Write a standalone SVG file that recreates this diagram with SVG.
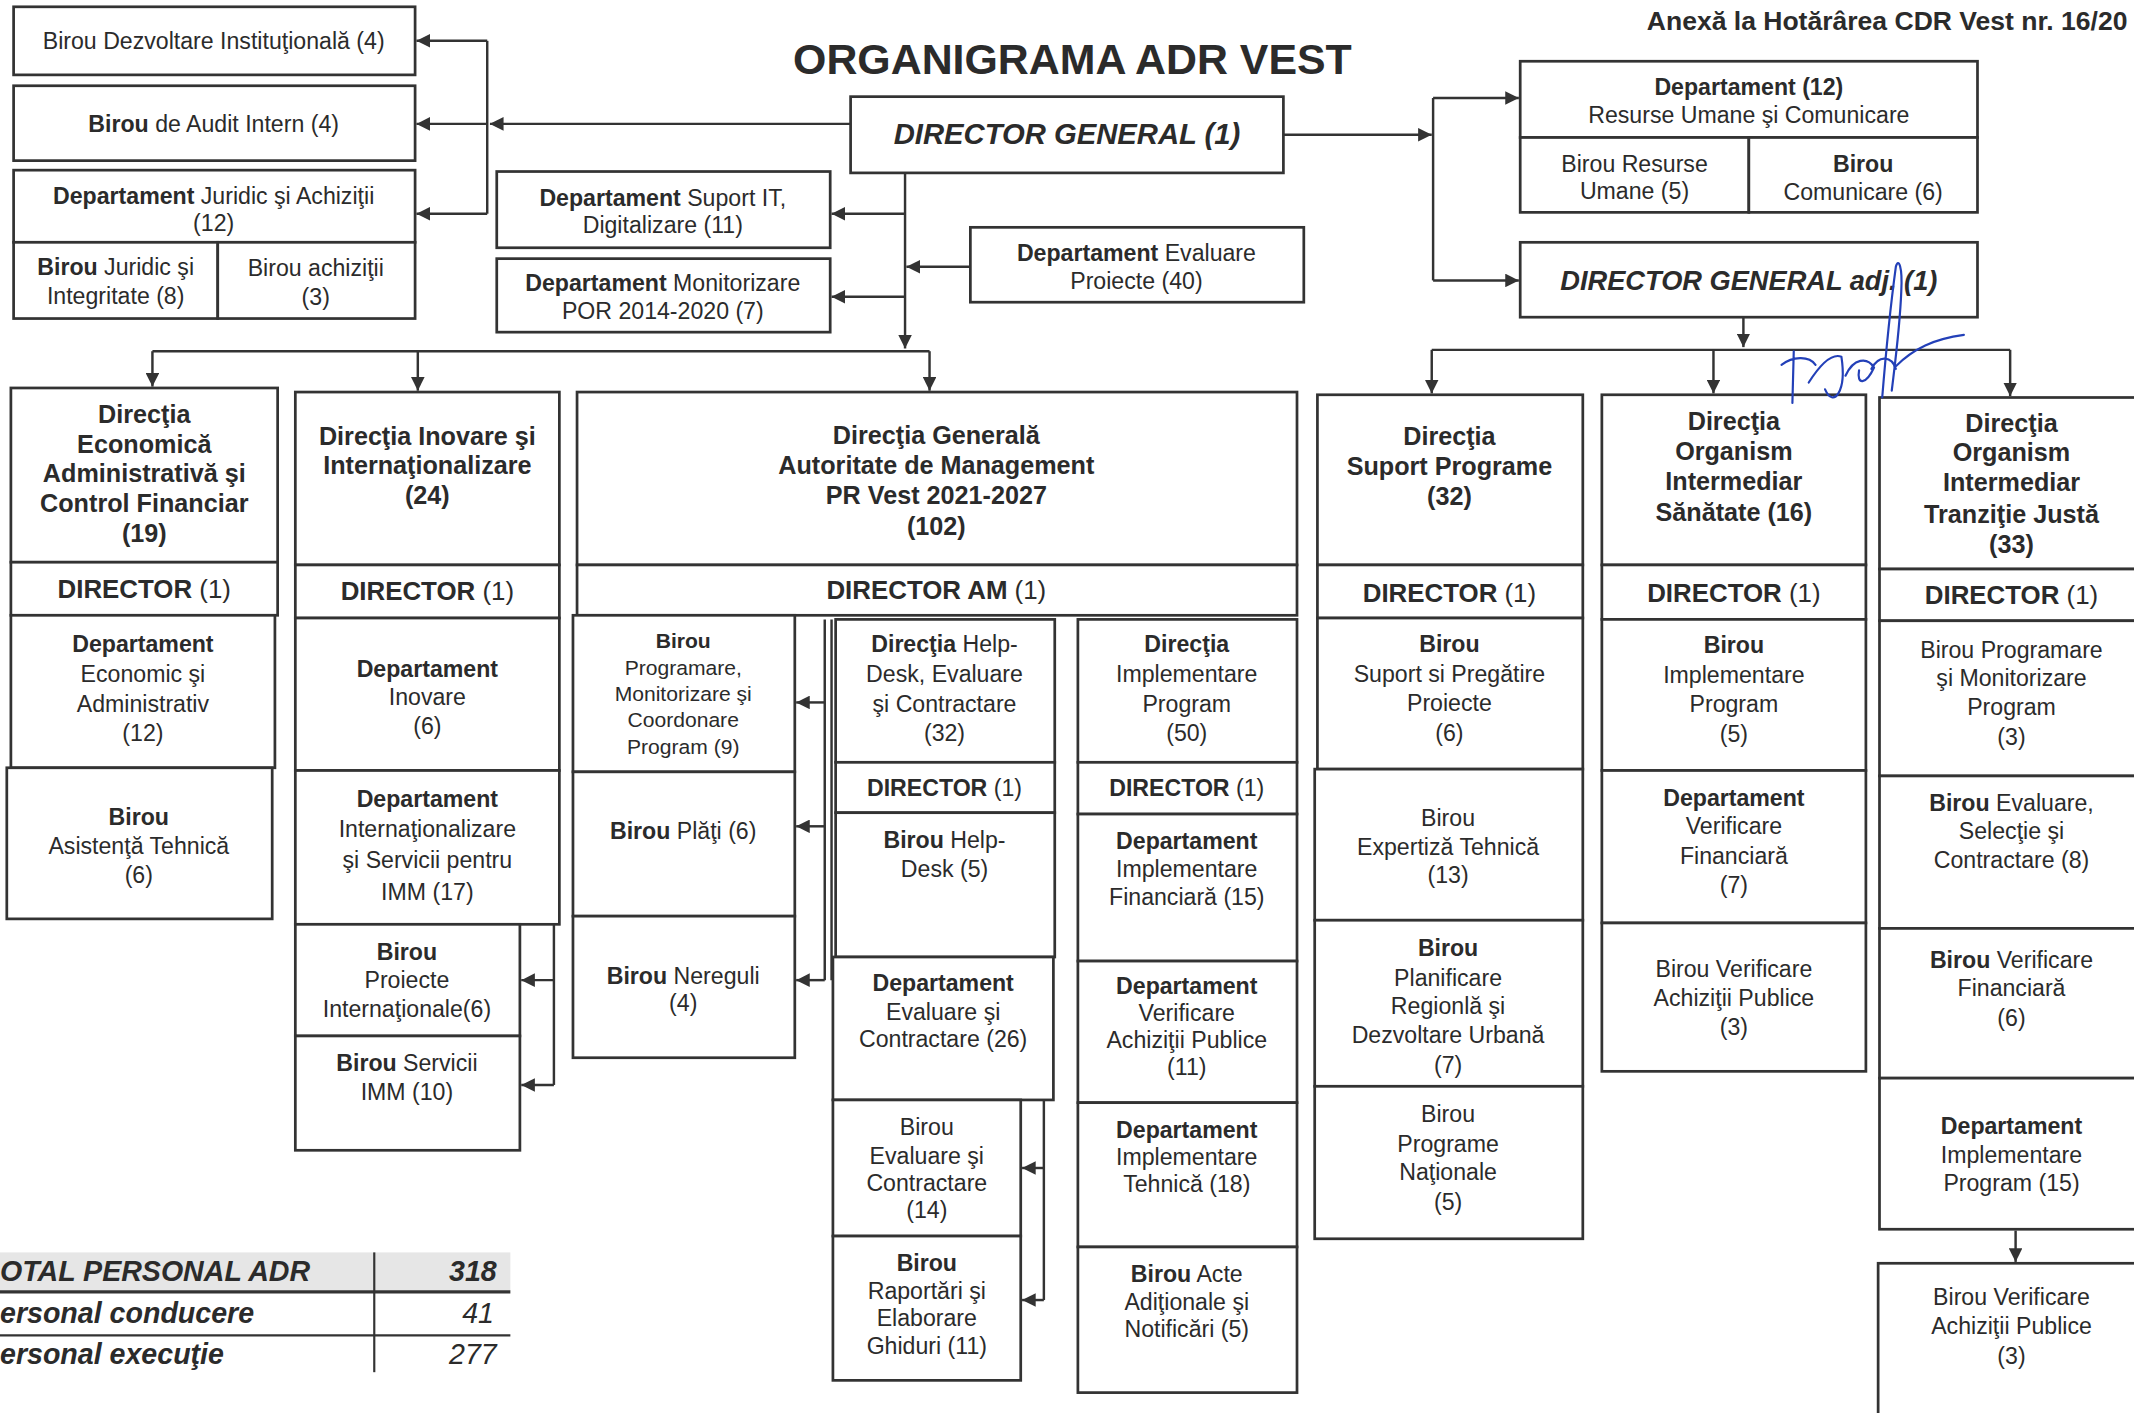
<svg xmlns="http://www.w3.org/2000/svg" width="2134" height="1413" viewBox="0 0 2134 1413">
<defs>
<style>
.bx{fill:#fff;stroke:#333;stroke-width:2}
.ln{fill:none;stroke:#333;stroke-width:1.8}
text{font-family:"Liberation Sans",Arial,sans-serif;fill:#2b2b2b}
.t{font-size:17px;text-anchor:middle}
.s{font-size:15.5px;text-anchor:middle}
.h{font-size:18.5px;font-weight:bold;text-anchor:middle}
.d{font-size:19px;text-anchor:middle}
.b{font-weight:bold}
.bi{font-weight:bold;font-style:italic}
.sig{fill:none;stroke:#2340b8;stroke-width:1.6;stroke-linecap:round;stroke-linejoin:round}
</style>
<marker id="ah" markerUnits="userSpaceOnUse" markerWidth="10" markerHeight="10" refX="10" refY="5" orient="auto">
<path d="M0,0 L10,5 L0,10 z" fill="#333"/>
</marker>
</defs>
<rect width="2134" height="1413" fill="#fff"/>
<g transform="scale(1.36097,1.3613)">

<text x="788" y="54" style="font-size:31.5px;font-weight:bold;text-anchor:middle">ORGANIGRAMA ADR VEST</text>
<text x="1210" y="22" style="font-size:19.5px;font-weight:bold">Anexă la Hotărârea CDR Vest nr. 16/20</text>

<g id="connectors">
<path class="ln" d="M625,91 H360" marker-end="url(#ah)"/>
<path class="ln" d="M358,30 V157"/>
<path class="ln" d="M358,30 H306" marker-end="url(#ah)"/>
<path class="ln" d="M358,91 H306" marker-end="url(#ah)"/>
<path class="ln" d="M358,157 H306" marker-end="url(#ah)"/>
<path class="ln" d="M943,99 H1052" marker-end="url(#ah)"/>
<path class="ln" d="M1053,72 V206"/>
<path class="ln" d="M1053,72 H1116" marker-end="url(#ah)"/>
<path class="ln" d="M1053,206 H1116" marker-end="url(#ah)"/>
<path class="ln" d="M665,127 V256" marker-end="url(#ah)"/>
<path class="ln" d="M665,157 H611" marker-end="url(#ah)"/>
<path class="ln" d="M665,218 H611" marker-end="url(#ah)"/>
<path class="ln" d="M713,196 H666" marker-end="url(#ah)"/>
<path class="ln" d="M112,258 H683"/>
<path class="ln" d="M112,258 V284" marker-end="url(#ah)"/>
<path class="ln" d="M307,258 V287" marker-end="url(#ah)"/>
<path class="ln" d="M683,258 V287" marker-end="url(#ah)"/>
<path class="ln" d="M1281,233 V255" marker-end="url(#ah)"/>
<path class="ln" d="M1052,257 H1477"/>
<path class="ln" d="M1052,257 V289" marker-end="url(#ah)"/>
<path class="ln" d="M1259,257 V289" marker-end="url(#ah)"/>
<path class="ln" d="M1477,257 V291" marker-end="url(#ah)"/>
<path class="ln" d="M407,679 V797"/>
<path class="ln" d="M407,720 H383" marker-end="url(#ah)"/>
<path class="ln" d="M407,797 H383" marker-end="url(#ah)"/>
<path class="ln" d="M606,455 V720"/>
<path class="ln" d="M611,455 V720"/>
<path class="ln" d="M606,516 H585" marker-end="url(#ah)"/>
<path class="ln" d="M606,607 H585" marker-end="url(#ah)"/>
<path class="ln" d="M606,720 H585" marker-end="url(#ah)"/>
<path class="ln" d="M767,808 V955"/>
<path class="ln" d="M767,858 H751" marker-end="url(#ah)"/>
<path class="ln" d="M767,955 H751" marker-end="url(#ah)"/>
<path class="ln" d="M1481,904 V927" marker-end="url(#ah)"/>
</g>

<g id="n_bdi"><rect class="bx" x="10" y="5" width="295" height="50"/><text class="t" x="157" y="36">Birou Dezvoltare Instituţională (4)</text></g>
<g id="n_audit"><rect class="bx" x="10" y="63" width="295" height="55"/><text class="t" x="157" y="97"><tspan class="b">Birou</tspan> de Audit Intern (4)</text></g>
<g id="n_juridic"><rect class="bx" x="10" y="125" width="295" height="53"/><text class="t" x="157" y="150"><tspan class="b">Departament</tspan> Juridic şi Achiziţii</text><text class="t" x="157" y="170">(12)</text></g>
<g id="n_bjur"><rect class="bx" x="10" y="178" width="150" height="56"/><text class="t" x="85" y="202"><tspan class="b">Birou</tspan> Juridic şi</text><text class="t" x="85" y="223">Integritate (8)</text></g>
<g id="n_bach"><rect class="bx" x="160" y="178" width="145" height="56"/><text class="t" x="232" y="203">Birou achiziţii</text><text class="t" x="232" y="224">(3)</text></g>

<g id="n_dg"><rect class="bx" x="625" y="71" width="318" height="56"/><text x="784" y="106" style="font-size:21.5px;font-weight:bold;font-style:italic;text-anchor:middle">DIRECTOR GENERAL (1)</text></g>
<g id="n_it"><rect class="bx" x="365" y="126" width="245" height="56"/><text class="t" x="487" y="151"><tspan class="b">Departament</tspan> Suport IT,</text><text class="t" x="487" y="171">Digitalizare (11)</text></g>
<g id="n_mon"><rect class="bx" x="365" y="190" width="245" height="54"/><text class="t" x="487" y="214"><tspan class="b">Departament</tspan> Monitorizare</text><text class="t" x="487" y="234">POR 2014-2020 (7)</text></g>
<g id="n_eval"><rect class="bx" x="713" y="167" width="245" height="55"/><text class="t" x="835" y="192"><tspan class="b">Departament</tspan> Evaluare</text><text class="t" x="835" y="212">Proiecte (40)</text></g>

<g id="n_ru"><rect class="bx" x="1117" y="45" width="336" height="56"/><text class="t" x="1285" y="70"><tspan class="b">Departament (12)</tspan></text><text class="t" x="1285" y="90">Resurse Umane şi Comunicare</text></g>
<g id="n_bru"><rect class="bx" x="1117" y="101" width="168" height="55"/><text class="t" x="1201" y="126">Birou Resurse</text><text class="t" x="1201" y="146">Umane (5)</text></g>
<g id="n_bcom"><rect class="bx" x="1285" y="101" width="168" height="55"/><text class="t" x="1369" y="126"><tspan class="b">Birou</tspan></text><text class="t" x="1369" y="147">Comunicare (6)</text></g>
<g id="n_dga"><rect class="bx" x="1117" y="178" width="336" height="55"/><text x="1285" y="213" style="font-size:20px;font-weight:bold;font-style:italic;text-anchor:middle">DIRECTOR GENERAL adj. (1)</text></g>

<g id="dirA"><rect class="bx" x="8" y="285" width="196" height="128"/>
<text class="h" x="106" y="311">Direcţia</text><text class="h" x="106" y="333">Economică</text><text class="h" x="106" y="354">Administrativă  şi</text><text class="h" x="106" y="376">Control Financiar</text><text class="h" x="106" y="398">(19)</text></g>
<g id="dirA_dir"><rect class="bx" x="8" y="413" width="196" height="39"/><text class="d" x="106" y="439"><tspan class="b">DIRECTOR</tspan> (1)</text></g>
<g id="a1"><rect class="bx" x="8" y="452" width="194" height="112"/><text class="t" x="105" y="479"><tspan class="b">Departament</tspan></text><text class="t" x="105" y="501">Economic şi</text><text class="t" x="105" y="523">Administrativ</text><text class="t" x="105" y="544">(12)</text></g>
<g id="a2"><rect class="bx" x="5" y="564" width="195" height="111"/><text class="t" x="102" y="606"><tspan class="b">Birou</tspan></text><text class="t" x="102" y="627">Asistenţă Tehnică</text><text class="t" x="102" y="649">(6)</text></g>

<g id="dirB"><rect class="bx" x="217" y="288" width="194" height="127"/>
<text class="h" x="314" y="327">Direcţia Inovare şi</text><text class="h" x="314" y="348">Internaţionalizare</text><text class="h" x="314" y="370">(24)</text></g>
<g id="dirB_dir"><rect class="bx" x="217" y="415" width="194" height="39"/><text class="d" x="314" y="441"><tspan class="b">DIRECTOR</tspan> (1)</text></g>
<g id="b1"><rect class="bx" x="217" y="454" width="194" height="112"/><text class="t" x="314" y="497"><tspan class="b">Departament</tspan></text><text class="t" x="314" y="518">Inovare</text><text class="t" x="314" y="539">(6)</text></g>
<g id="b2"><rect class="bx" x="217" y="566" width="194" height="113"/><text class="t" x="314" y="593"><tspan class="b">Departament</tspan></text><text class="t" x="314" y="615">Internaţionalizare</text><text class="t" x="314" y="638">şi Servicii pentru</text><text class="t" x="314" y="661">IMM (17)</text></g>
<g id="b3"><rect class="bx" x="217" y="679" width="165" height="82"/><text class="t" x="299" y="705"><tspan class="b">Birou</tspan></text><text class="t" x="299" y="726">Proiecte</text><text class="t" x="299" y="747">Internaţionale(6)</text></g>
<g id="b4"><rect class="bx" x="217" y="761" width="165" height="84"/><text class="t" x="299" y="787"><tspan class="b">Birou</tspan> Servicii</text><text class="t" x="299" y="808">IMM (10)</text></g>

<g id="dirC"><rect class="bx" x="424" y="288" width="529" height="127"/>
<text class="h" x="688" y="326">Direcţia Generală</text><text class="h" x="688" y="348">Autoritate de Management</text><text class="h" x="688" y="370">PR Vest 2021-2027</text><text class="h" x="688" y="393">(102)</text></g>
<g id="dirC_dir"><rect class="bx" x="424" y="415" width="529" height="37"/><text class="d" x="688" y="440"><tspan class="b">DIRECTOR AM</tspan> (1)</text></g>
<g id="c1"><rect class="bx" x="421" y="452" width="163" height="115"/><text class="s" x="502" y="476"><tspan class="b">Birou</tspan></text><text class="s" x="502" y="496">Programare,</text><text class="s" x="502" y="515">Monitorizare şi</text><text class="s" x="502" y="534">Coordonare</text><text class="s" x="502" y="554">Program (9)</text></g>
<g id="c2"><rect class="bx" x="421" y="567" width="163" height="106"/><text class="t" x="502" y="616"><tspan class="b">Birou</tspan> Plăţi (6)</text></g>
<g id="c3"><rect class="bx" x="421" y="673" width="163" height="104"/><text class="t" x="502" y="723"><tspan class="b">Birou</tspan> Nereguli</text><text class="t" x="502" y="743">(4)</text></g>

<g id="h1"><rect class="bx" x="614" y="455" width="161" height="105"/><text class="t" x="694" y="479"><tspan class="b">Direcţia</tspan> Help-</text><text class="t" x="694" y="501">Desk, Evaluare</text><text class="t" x="694" y="523">şi Contractare</text><text class="t" x="694" y="544">(32)</text></g>
<g id="h_dir"><rect class="bx" x="614" y="560" width="161" height="37"/><text class="t" x="694" y="585"><tspan class="b">DIRECTOR</tspan>  (1)</text></g>
<g id="h2"><rect class="bx" x="614" y="597" width="161" height="106"/><text class="t" x="694" y="623"><tspan class="b">Birou</tspan> Help-</text><text class="t" x="694" y="644">Desk (5)</text></g>
<g id="h3"><rect class="bx" x="612" y="703" width="162" height="105"/><text class="t" x="693" y="728"><tspan class="b">Departament</tspan></text><text class="t" x="693" y="749">Evaluare şi</text><text class="t" x="693" y="769">Contractare (26)</text></g>
<g id="h4"><rect class="bx" x="612" y="808" width="138" height="100"/><text class="t" x="681" y="834">Birou</text><text class="t" x="681" y="855">Evaluare şi</text><text class="t" x="681" y="875">Contractare</text><text class="t" x="681" y="895">(14)</text></g>
<g id="h5"><rect class="bx" x="612" y="908" width="138" height="106"/><text class="t" x="681" y="934"><tspan class="b">Birou</tspan></text><text class="t" x="681" y="954">Raportări şi</text><text class="t" x="681" y="974">Elaborare</text><text class="t" x="681" y="995">Ghiduri (11)</text></g>

<g id="i1"><rect class="bx" x="792" y="455" width="161" height="105"/><text class="t" x="872" y="479"><tspan class="b">Direcţia</tspan></text><text class="t" x="872" y="501">Implementare</text><text class="t" x="872" y="523">Program</text><text class="t" x="872" y="544">(50)</text></g>
<g id="i_dir"><rect class="bx" x="792" y="560" width="161" height="38"/><text class="t" x="872" y="585"><tspan class="b">DIRECTOR</tspan> (1)</text></g>
<g id="i2"><rect class="bx" x="792" y="598" width="161" height="108"/><text class="t" x="872" y="624"><tspan class="b">Departament</tspan></text><text class="t" x="872" y="644">Implementare</text><text class="t" x="872" y="665">Financiară (15)</text></g>
<g id="i3"><rect class="bx" x="792" y="706" width="161" height="104"/><text class="t" x="872" y="730"><tspan class="b">Departament</tspan></text><text class="t" x="872" y="750">Verificare</text><text class="t" x="872" y="770">Achiziţii Publice</text><text class="t" x="872" y="790">(11)</text></g>
<g id="i4"><rect class="bx" x="792" y="810" width="161" height="106"/><text class="t" x="872" y="836"><tspan class="b">Departament</tspan></text><text class="t" x="872" y="856">Implementare</text><text class="t" x="872" y="876">Tehnică (18)</text></g>
<g id="i5"><rect class="bx" x="792" y="916" width="161" height="107"/><text class="t" x="872" y="942"><tspan class="b">Birou</tspan> Acte</text><text class="t" x="872" y="962">Adiţionale şi</text><text class="t" x="872" y="982">Notificări (5)</text></g>

<g id="dirD"><rect class="bx" x="968" y="290" width="195" height="125"/><text class="h" x="1065" y="327">Direcţia</text><text class="h" x="1065" y="349">Suport Programe</text><text class="h" x="1065" y="371">(32)</text></g>
<g id="dirD_dir"><rect class="bx" x="968" y="415" width="195" height="39"/><text class="d" x="1065" y="442"><tspan class="b">DIRECTOR</tspan> (1)</text></g>
<g id="d2"><rect class="bx" x="968" y="454" width="195" height="111"/><text class="t" x="1065" y="479"><tspan class="b">Birou</tspan></text><text class="t" x="1065" y="501">Suport si Pregătire</text><text class="t" x="1065" y="522">Proiecte</text><text class="t" x="1065" y="544">(6)</text></g>
<g id="d3"><rect class="bx" x="966" y="565" width="197" height="111"/><text class="t" x="1064" y="607">Birou</text><text class="t" x="1064" y="628">Expertiză Tehnică</text><text class="t" x="1064" y="649">(13)</text></g>
<g id="d4"><rect class="bx" x="966" y="676" width="197" height="122"/><text class="t" x="1064" y="702"><tspan class="b">Birou</tspan></text><text class="t" x="1064" y="724">Planificare</text><text class="t" x="1064" y="745">Regionlă şi</text><text class="t" x="1064" y="766">Dezvoltare Urbană</text><text class="t" x="1064" y="788">(7)</text></g>
<g id="d5"><rect class="bx" x="966" y="798" width="197" height="112"/><text class="t" x="1064" y="824">Birou</text><text class="t" x="1064" y="846">Programe</text><text class="t" x="1064" y="867">Naţionale</text><text class="t" x="1064" y="889">(5)</text></g>

<g id="dirE"><rect class="bx" x="1177" y="290" width="194" height="125"/><text class="h" x="1274" y="316">Direcţia</text><text class="h" x="1274" y="338">Organism</text><text class="h" x="1274" y="360">Intermediar</text><text class="h" x="1274" y="383">Sănătate (16)</text></g>
<g id="dirE_dir"><rect class="bx" x="1177" y="415" width="194" height="40"/><text class="d" x="1274" y="442"><tspan class="b">DIRECTOR</tspan> (1)</text></g>
<g id="e2"><rect class="bx" x="1177" y="455" width="194" height="111"/><text class="t" x="1274" y="480"><tspan class="b">Birou</tspan></text><text class="t" x="1274" y="502">Implementare</text><text class="t" x="1274" y="523">Program</text><text class="t" x="1274" y="545">(5)</text></g>
<g id="e3"><rect class="bx" x="1177" y="566" width="194" height="112"/><text class="t" x="1274" y="592"><tspan class="b">Departament</tspan></text><text class="t" x="1274" y="613">Verificare</text><text class="t" x="1274" y="635">Financiară</text><text class="t" x="1274" y="656">(7)</text></g>
<g id="e4"><rect class="bx" x="1177" y="678" width="194" height="109"/><text class="t" x="1274" y="718">Birou Verificare</text><text class="t" x="1274" y="739">Achiziţii Publice</text><text class="t" x="1274" y="760">(3)</text></g>

<g id="dirF"><rect class="bx" x="1381" y="292" width="200" height="126"/><text class="h" x="1478" y="317">Direcţia</text><text class="h" x="1478" y="339">Organism</text><text class="h" x="1478" y="361">Intermediar</text><text class="h" x="1478" y="384">Tranziţie Justă</text><text class="h" x="1478" y="406">(33)</text></g>
<g id="dirF_dir"><rect class="bx" x="1381" y="418" width="200" height="38"/><text class="d" x="1478" y="444"><tspan class="b">DIRECTOR</tspan> (1)</text></g>
<g id="f2"><rect class="bx" x="1381" y="456" width="200" height="114"/><text class="t" x="1478" y="483">Birou Programare</text><text class="t" x="1478" y="504">şi Monitorizare</text><text class="t" x="1478" y="525">Program</text><text class="t" x="1478" y="547">(3)</text></g>
<g id="f3"><rect class="bx" x="1381" y="570" width="200" height="112"/><text class="t" x="1478" y="596"><tspan class="b">Birou</tspan> Evaluare,</text><text class="t" x="1478" y="616">Selecţie şi</text><text class="t" x="1478" y="638">Contractare (8)</text></g>
<g id="f4"><rect class="bx" x="1381" y="682" width="200" height="110"/><text class="t" x="1478" y="711"><tspan class="b">Birou</tspan> Verificare</text><text class="t" x="1478" y="732">Financiară</text><text class="t" x="1478" y="754">(6)</text></g>
<g id="f5"><rect class="bx" x="1381" y="792" width="200" height="111"/><text class="t" x="1478" y="833"><tspan class="b">Departament</tspan></text><text class="t" x="1478" y="854">Implementare</text><text class="t" x="1478" y="875">Program (15)</text></g>
<g id="f6"><rect class="bx" x="1380" y="928" width="200" height="125"/><text class="t" x="1478" y="959">Birou Verificare</text><text class="t" x="1478" y="980">Achiziţii Publice</text><text class="t" x="1478" y="1002">(3)</text></g>

<g id="totals">
<rect x="0" y="920" width="375" height="28" fill="#e6e6e6"/>
<path d="M0,949 H375" stroke="#333" stroke-width="2.5"/>
<path d="M0,981 H375" stroke="#333" stroke-width="1.6"/>
<path d="M275,920 V1008" stroke="#333" stroke-width="1.6"/>
<text x="0" y="941" style="font-size:21px;font-weight:bold;font-style:italic">OTAL PERSONAL ADR</text>
<text x="365" y="941" style="font-size:21px;font-weight:bold;font-style:italic;text-anchor:end">318</text>
<text x="0" y="972" style="font-size:21px;font-weight:bold;font-style:italic">ersonal conducere</text>
<text x="363" y="972" style="font-size:21px;font-style:italic;text-anchor:end">41</text>
<text x="0" y="1002" style="font-size:21px;font-weight:bold;font-style:italic">ersonal execuţie</text>
<text x="365" y="1002" style="font-size:21px;font-style:italic;text-anchor:end">277</text>
</g>

<g id="signature">
<path class="sig" d="M1383,292 C1386,255 1390,218 1393,196 C1395,189 1398,196 1397,214 C1396,240 1393,262 1390,287"/>
<path class="sig" d="M1318,258 L1317,296 M1309,268 C1317,262 1329,261 1334,268 M1329,281 C1336,270 1345,259 1353,262 C1357,288 1347,300 1341,286 M1356,276 C1362,263 1372,262 1377,270 C1371,283 1364,283 1366,272 M1375,271 C1381,260 1390,262 1393,271 M1393,269 C1406,256 1421,249 1443,246"/>
</g>

</g>
</svg>
